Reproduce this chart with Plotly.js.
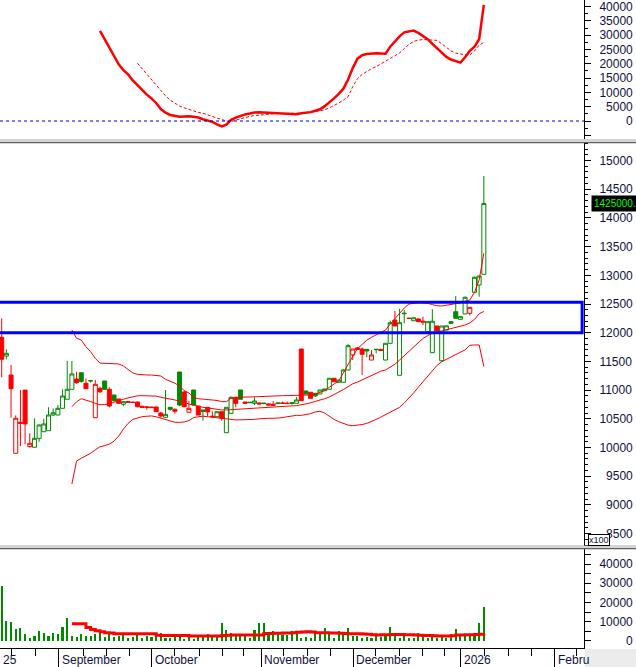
<!DOCTYPE html>
<html><head><meta charset="utf-8">
<script src="https://cdn.plot.ly/plotly-3.0.1.min.js"></script>
<style>html,body{margin:0;padding:0;background:#fff;}#chart{width:636px;height:667px;}</style>
</head><body><div id="chart"></div>
<script>
// ---------- DATA (bar index 0..103) ----------
const openP = [11920,11594,11263,9899,10440,11000,10014,10004,10160,10275,
10293,10566,10566,10683,10840,11014,11193,11303,11119,11160,
10519,11031,11159,11014,10915,10845,10753,10800,10790,10793,
10718,10710,10705,10706,10601,10526,10700,10666,11315,10967,
10614,11002,10723,10654,10700,10545,10537,10624,10258,10596,
10875,11002,10793,10780,10770,10776,10775,10760,10755,10765,
10775,10772,10780,10770,11716,10984,10962,10944,10932,10990,
11014,11206,11136,11136,11350,11612,11735,11716,11710,11524,
11705,11710,11524,11815,12221,11258,12330,12250,12209,12239,
12200,12017,11652,12117,11512,12047,12192,12366,12233,12326,
12338,12704,12831,13017];
const highP = [12251,11711,11437,10560,11002,11000,10247,10509,10400,10500,
10700,10680,10740,11014,11507,11507,11321,11303,11200,11164,
11176,11060,11159,11050,10915,10845,10810,10810,10800,10800,
10730,10715,10710,10706,10620,11002,10700,10680,11315,10990,
10810,11002,10723,10654,10700,10630,10624,10624,10700,10890,
10875,11002,10793,10790,10875,10790,10778,10765,10810,10780,
10800,10800,10780,10880,11716,10990,10962,10950,11002,11020,
11206,11206,11176,11370,11800,11716,11750,11740,11710,11699,
11710,11710,11815,12210,12378,12418,12395,12260,12261,12250,
12279,12192,12407,12117,12117,12120,12192,12639,12279,12630,
12442,12980,12988,14730];
const lowP = [11223,11537,10519,9899,10026,10060,10000,10000,10100,10275,
10293,10550,10566,10683,10840,11014,11110,11129,11025,11130,
10519,10950,11014,10700,10800,10760,10720,10780,10775,10700,
10690,10660,10690,10620,10520,10526,10640,10590,10720,10700,
10614,10740,10566,10467,10537,10520,10537,10467,10258,10596,
10700,10840,10770,10775,10740,10750,10760,10735,10730,10760,
10765,10760,10747,10770,10815,10930,10857,10880,10932,10990,
11014,11146,11136,11136,11350,11524,11700,11263,11571,11524,
11640,11681,11524,11815,12117,11258,12164,12240,12209,12192,
12134,12017,11652,12035,11490,12047,12150,12251,12233,12326,
12300,12704,12627,13017];
const closeP = [11537,11641,11025,10509,10420,10410,10073,10160,10392,10410,
10566,10606,10683,10897,11014,11281,11129,11150,11025,11164,
11101,10972,11014,10723,10817,10770,10798,10790,10785,10711,
10700,10698,10695,10624,10549,10578,10666,10631,10740,10711,
10683,10740,10566,10630,10620,10537,10624,10509,10700,10875,
10770,10840,10770,10787,10810,10760,10765,10740,10735,10775,
10770,10765,10770,10828,10815,10932,10857,10900,11002,11020,
11206,11146,11176,11350,11774,11716,11710,11624,11681,11612,
11710,11690,11815,12174,12117,12174,12338,12250,12261,12192,
12185,12192,12200,12035,12117,12120,12164,12251,12279,12617,
12442,12965,12988,14250];
const volume = [28500,10600,10100,6000,7000,3400,1400,2400,5000,3900,
2400,3900,3400,7500,12100,2400,1900,3400,2400,2400,
3400,4400,1900,3400,1900,2400,4400,1400,1900,2900,
1400,2400,1900,2400,3900,1400,1400,1900,3400,900,
1900,900,1900,1900,3400,1900,2900,9100,5500,3900,
2900,2400,2400,1400,5500,9100,9100,3400,5000,3400,
2900,2900,5000,3900,1400,1900,1400,3900,3900,7000,
3900,1400,5000,3400,6500,2400,2400,1400,1900,1400,
2400,1900,2400,7500,4400,1400,4400,1400,1400,3900,
1900,1400,1900,1400,2400,1400,3400,6000,2400,2400,
2400,4400,9600,17800];

// Bollinger bands (first value at bar 15)
const bandStart = 15;
const bbUpper = [12047,11902,11873,11756,11669,11553,11470,11470,11465,11460,
11455,11420,11360,11300,11275,11263,11263,11263,11260,11246,
11188,11159,11120,11072,10990,10950,10868,10850,10845,10835,
10828,10820,10800,10798,10860,10870,10875,10880,10880,10885,
10886,10890,10895,10900,10903,10903,10905,10905,10905,10905,
10910,10915,10930,10960,10990,11050,11100,11160,11300,11450,
11590,11720,11800,11870,11920,11960,12000,12047,12150,12250,
12340,12430,12500,12515,12523,12520,12512,12490,12470,12465,
12480,12500,12510,12520,12550,12570,12700,12920,13383];
const bbMid = [10711,10798,10850,10828,10800,10770,10745,10748,10760,10790,
10820,10840,10865,10885,10900,10903,10903,10900,10895,10875,
10855,10840,10828,10810,10780,10758,10735,10711,10700,10690,
10675,10660,10654,10654,10660,10666,10668,10670,10675,10683,
10685,10690,10700,10705,10711,10715,10720,10725,10729,10740,
10760,10780,10800,10825,10850,10880,10920,10960,11010,11060,
11110,11140,11180,11220,11260,11300,11330,11350,11400,11450,
11524,11600,11680,11760,11840,11900,11950,11989,12010,12030,
12047,12070,12090,12110,12134,12170,12230,12330,12370];
const bbLower = [9364,9765,9812,9850,9899,9960,10014,10032,10060,10110,
10200,10320,10420,10490,10520,10537,10545,10550,10535,10509,
10490,10467,10440,10438,10445,10470,10520,10537,10545,10537,
10530,10515,10509,10505,10490,10480,10480,10480,10480,10490,
10500,10509,10509,10509,10509,10520,10537,10550,10560,10560,
10570,10590,10620,10630,10600,10540,10490,10450,10420,10390,
10380,10385,10400,10420,10450,10490,10530,10570,10610,10650,
10700,10775,10860,10950,11050,11150,11250,11350,11430,11495,
11540,11580,11620,11660,11700,11780,11786,11786,11410];

// Volume moving average (first value at bar 15)
const volMAStart = 15;
const volMA = [8900,8900,8900,7000,6000,5300,4800,4300,4100,3800,
3800,3800,3800,3800,3800,3800,3800,3700,3000,2900,
2900,2900,2900,2900,2800,2600,2600,2600,2600,2600,
2600,2600,2900,3000,3100,3100,3100,3100,3100,3100,
3100,3900,3900,4000,4000,4100,4200,4300,4500,4700,
4800,4700,4300,4300,4300,4200,4100,4000,3900,3800,
3700,3700,3600,3500,3300,3100,3200,3300,3400,3400,
3400,3300,3200,3100,3000,2900,2800,2700,2600,2600,
2600,2700,3100,3100,3200,3300,3400,3500,3800];

// Oscillator panel: main line (from bar 21) and signal line (from bar 29)
const oscStart = 21;
const oscLine = [31500,28500,26000,22500,19800,17800,16300,14200,12500,11000,
9200,7900,6300,4200,2900,2100,1700,1500,1600,1700,
1500,1200,600,100,-300,-1200,-1900,-1300,400,1200,
1800,2300,2600,3000,3100,3000,2900,2700,2600,2500,
2400,2300,2400,2700,2900,3100,3600,4100,5200,6500,
7900,9500,11300,14500,18500,21800,23000,23400,23600,23700,
23600,23500,26000,27800,29600,31000,31400,31600,30800,29800,
28600,27000,25500,23800,22400,21500,20900,20400,22300,24500,
26000,28600,40600];
const sigStart = 29;
const oscSignal = [20200,18300,16300,14400,12300,10500,8800,7300,6200,5200,
4600,4000,3500,3000,2700,2100,1600,1000,500,0,
-200,300,800,1300,1600,1900,2100,2200,2400,2500,
2600,2700,2700,2700,2700,2800,2900,3000,3300,3600,
3900,4600,5400,6300,7300,8500,12000,14800,16300,17400,
18300,19000,20000,21000,22000,22800,23800,25300,26800,27800,
28300,28500,28400,28300,28200,27000,25800,24500,23700,23400,
23200,23100,24500,26500,27500];

// Axis ticks / labels
const monthTickIdx = [12.2, 32.1, 55.4, 75.1, 98.1, 118.1];
const weekTickIdx = [2.2,7.3,17.4,22.3,27.2,37.0,42.2,47.1,51.6,60.3,65.3,70.3,79.8,85.0,89.8,94.7,103.2,108.2,113.1,122.9];
const monthLabelIdx = [-0.36, 12.2, 32.1, 55.4, 75.1, 98.1, 118.1];
const monthLabels = ['25','September','October','November','December','2026','Febru'];
const priceTicks = [8500,9000,9500,10000,10500,11000,11500,12000,12500,13000,13500,14000,14500,15000];
const oscTicks = [-5000,0,5000,10000,15000,20000,25000,30000,35000,40000];
const volTicks = [0,5000,10000,15000,20000,25000,30000,35000,40000,45000];
const volLabelled = [0,10000,20000,30000,40000];
const zoneLow = 12000, zoneHigh = 12530;
const lastLabel = '1425000.';

// ---------- BUILD ----------
const FS = '\u2007';
const pad5 = v => { const s = String(v); return FS.repeat(Math.max(0, 5 - s.length)) + s; };
const GREEN = '#008a00', RED = '#ff0000';
const idx = closeP.map((_, i) => i);

const groups = {gh:[], rh:[], gf:[], rf:[]};
idx.forEach(i => {
  const hollow = closeP[i] > openP[i];
  const up = i === 0 ? closeP[i] >= openP[i] : closeP[i] >= closeP[i-1];
  groups[(up ? 'g' : 'r') + (hollow ? 'h' : 'f')].push(i);
});
const candle = (list, color, fill) => ({
  type:'candlestick', xaxis:'x', yaxis:'y', hoverinfo:'skip', showlegend:false,
  x:list, open:list.map(i=>openP[i]), high:list.map(i=>highP[i]), low:list.map(i=>lowP[i]), close:list.map(i=>closeP[i]),
  whiskerwidth:0,
  increasing:{line:{color:color,width:1}, fillcolor:fill},
  decreasing:{line:{color:color,width:1}, fillcolor:fill}
});
const seg = (start, arr) => arr.map((_, k) => start + k);

const traces = [
  candle(groups.gh, GREEN, '#ffffff'),
  candle(groups.rh, RED, '#ffffff'),
  candle(groups.gf, GREEN, GREEN),
  candle(groups.rf, RED, RED),
  {type:'scatter', mode:'lines', x:seg(bandStart,bbUpper), y:bbUpper, xaxis:'x', yaxis:'y', line:{color:RED,width:1}, hoverinfo:'skip', showlegend:false},
  {type:'scatter', mode:'lines', x:seg(bandStart,bbMid), y:bbMid, xaxis:'x', yaxis:'y', line:{color:RED,width:1}, hoverinfo:'skip', showlegend:false},
  {type:'scatter', mode:'lines', x:seg(bandStart,bbLower), y:bbLower, xaxis:'x', yaxis:'y', line:{color:RED,width:1}, hoverinfo:'skip', showlegend:false},
  {type:'bar', x:idx, y:volume, xaxis:'x', yaxis:'y2', width:0.45, marker:{color:GREEN, line:{width:0}}, hoverinfo:'skip', showlegend:false},
  {type:'scatter', mode:'lines', x:seg(volMAStart,volMA), y:volMA, xaxis:'x', yaxis:'y2', line:{color:RED,width:3,shape:'hv'}, hoverinfo:'skip', showlegend:false},
  {type:'scatter', mode:'lines', x:seg(sigStart,oscSignal), y:oscSignal, xaxis:'x', yaxis:'y3', line:{color:RED,width:1,dash:'3px,2px'}, hoverinfo:'skip', showlegend:false},
  {type:'scatter', mode:'lines', x:seg(oscStart,oscLine), y:oscLine, xaxis:'x', yaxis:'y3', line:{color:RED,width:2.5}, hoverinfo:'skip', showlegend:false}
];

const H = 648; // plot area height in px
const py = p => (H - p) / H; // page y -> paper
const yBase = {side:'right', showline:true, linecolor:'#000', linewidth:1, ticks:'outside', ticklen:6, tickcolor:'#000',
  showgrid:false, zeroline:false, ticklabelstandoff:6, ticklabeloverflow:'allow', fixedrange:true,
  tickfont:{family:'Liberation Sans, Arial, sans-serif', size:12, color:'#101040'}};

const layout = {
  width:636, height:667, margin:{l:0, r:52, t:0, b:19, pad:0},
  paper_bgcolor:'#fff', plot_bgcolor:'#fff', showlegend:false,
  boxgap:0.1, boxgroupgap:0.05, bargap:0,
  font:{family:'Liberation Sans, Arial, sans-serif', size:12, color:'#101040'},
  xaxis:{domain:[0,1], range:[-0.36,124.4], anchor:'y2', showgrid:false, zeroline:false,
    showline:true, linecolor:'#000', linewidth:1, ticks:'outside', ticklen:19, tickcolor:'#000',
    tickvals:monthTickIdx, showticklabels:false, rangeslider:{visible:false}, fixedrange:true,
    minor:{tickvals:weekTickIdx, ticks:'outside', ticklen:7, tickcolor:'#000', showgrid:false}},
  yaxis:Object.assign({}, yBase, {domain:[py(546), py(143)], range:[8284,15305], anchor:'x',
    tickvals:priceTicks, ticktext:priceTicks.map(pad5),
    minor:{dtick:100, ticks:'outside', ticklen:3, tickcolor:'#000', showgrid:false}}),
  yaxis2:Object.assign({}, yBase, {domain:[0, py(549)], range:[-3640,47800], anchor:'x',
    tickvals:volTicks, ticktext:volTicks.map(v => volLabelled.includes(v) ? pad5(v) : '')}),
  yaxis3:Object.assign({}, yBase, {domain:[py(139), 1], range:[-6295,42314], anchor:'x',
    tickvals:oscTicks, ticktext:oscTicks.map(v => v < 0 ? '' : pad5(v)),
    minor:{dtick:2500, ticks:'outside', ticklen:3, tickcolor:'#000', showgrid:false}}),
  shapes:[
    {type:'rect', xref:'x', yref:'y', x0:-5, x1:124.0, y0:zoneLow, y1:zoneHigh, line:{color:'#0000ff', width:3}, fillcolor:'rgba(0,0,0,0)'},
    {type:'line', xref:'paper', yref:'y3', x0:0, x1:1, y0:0, y1:0, line:{color:'#0000cc', width:1, dash:'3px,3px'}},
    {type:'line', xref:'paper', yref:'paper', x0:0, x1:636/584, y0:py(140), y1:py(140), line:{color:'#a8a8a8', width:1}},
    {type:'line', xref:'paper', yref:'paper', x0:0, x1:636/584, y0:py(142.5), y1:py(142.5), line:{color:'#606060', width:1.5}},
    {type:'line', xref:'paper', yref:'paper', x0:0, x1:636/584, y0:py(546), y1:py(546), line:{color:'#a8a8a8', width:1}},
    {type:'line', xref:'paper', yref:'paper', x0:0, x1:636/584, y0:py(548.5), y1:py(548.5), line:{color:'#606060', width:1.5}},
    {type:'rect', xref:'paper', yref:'paper', x0:585/584, x1:640/584, y0:py(667), y1:py(649), line:{width:0}, fillcolor:'#ececec'}
  ],
  annotations: monthLabels.map((t, k) => ({
    text:t, x:monthLabelIdx[k], xref:'x', xanchor:'left', xshift:1, y:py(660), yref:'paper', yanchor:'middle',
    showarrow:false, font:{family:'Liberation Sans, Arial, sans-serif', size:12, color:'#101040'}
  })).concat([
    {text:lastLabel, x:591/584, xref:'paper', xanchor:'left', y:closeP[closeP.length-1], yref:'y', yanchor:'middle',
     showarrow:false, bgcolor:'#000', borderpad:2, font:{family:'Liberation Sans, Arial, sans-serif', size:10, color:'#00ff00'}},
    {text:'x100', x:588/584, xref:'paper', xanchor:'left', y:py(540), yref:'paper', yanchor:'middle',
     showarrow:false, bgcolor:'#fff', bordercolor:'#000', borderwidth:1, borderpad:0,
     font:{family:'Liberation Sans, Arial, sans-serif', size:9, color:'#101040'}}
  ])
};

Plotly.newPlot('chart', traces, layout, {staticPlot:true, displayModeBar:false});
</script>
</body></html>
